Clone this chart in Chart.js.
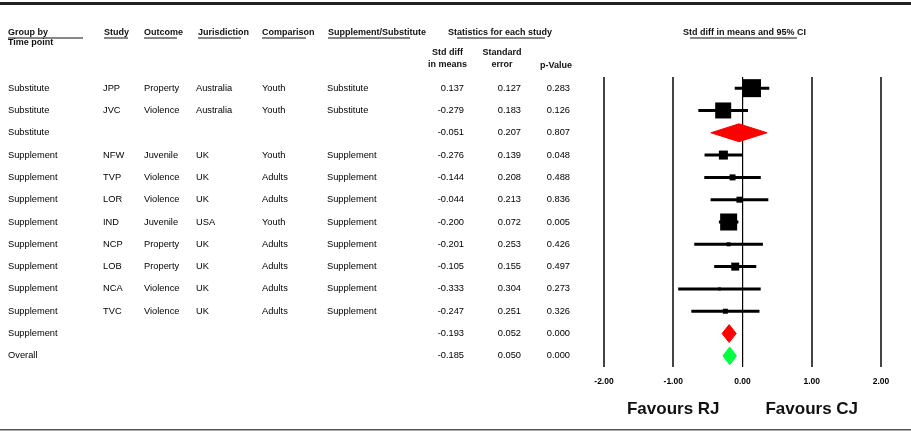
<!DOCTYPE html>
<html>
<head>
<meta charset="utf-8">
<script src="https://cdn.jsdelivr.net/npm/chart.js@4.4.1/dist/chart.umd.min.js"></script>
<style>
html, body { margin: 0; padding: 0; background: #fff; }
</style>
</head>
<body>
<canvas id="forest" width="911" height="431"></canvas>
<script>
// -------- data, rows from top to bottom -------- //
const groups = ['Substitute', 'Substitute', 'Substitute', 'Supplement', 'Supplement', 'Supplement', 'Supplement',
                'Supplement', 'Supplement', 'Supplement', 'Supplement', 'Supplement', 'Overall'];
const studies = ['JPP', 'JVC', '', 'NFW', 'TVP', 'LOR', 'IND', 'NCP', 'LOB', 'NCA', 'TVC', '', ''];
const outcomes = ['Property', 'Violence', '', 'Juvenile', 'Violence', 'Violence', 'Juvenile', 'Property', 'Property', 'Violence', 'Violence', '', ''];
const jurisdictions = ['Australia', 'Australia', '', 'UK', 'UK', 'UK', 'USA', 'UK', 'UK', 'UK', 'UK', '', ''];
const comparisons = ['Youth', 'Youth', '', 'Youth', 'Adults', 'Adults', 'Youth', 'Adults', 'Adults', 'Adults', 'Adults', '', ''];
const suppSub = ['Substitute', 'Substitute', '', 'Supplement', 'Supplement', 'Supplement', 'Supplement', 'Supplement',
                 'Supplement', 'Supplement', 'Supplement', '', ''];
const stdDiff = [0.137, -0.279, -0.051, -0.276, -0.144, -0.044, -0.200, -0.201, -0.105, -0.333, -0.247, -0.193, -0.185];
const stdErr = [0.127, 0.183, 0.207, 0.139, 0.208, 0.213, 0.072, 0.253, 0.155, 0.304, 0.251, 0.052, 0.050];
const pValue = [0.283, 0.126, 0.807, 0.048, 0.488, 0.836, 0.005, 0.426, 0.497, 0.273, 0.326, 0.000, 0.000];
const lowerCI = [-0.112, -0.638, -0.457, -0.548, -0.552, -0.461, -0.341, -0.697, -0.409, -0.929, -0.739, -0.295, -0.283];
const upperCI = [0.386, 0.080, 0.355, -0.004, 0.264, 0.373, -0.059, 0.295, 0.199, 0.263, 0.245, -0.091, -0.087];
const rowKind = ['study', 'study', 'subgroup', 'study', 'study', 'study', 'study', 'study', 'study', 'study', 'study', 'subgroup', 'overall'];
const boxSide = [18, 16, 0, 9, 6, 6, 17, 4, 8, 3, 5, 0, 0]; // weight boxes, px
const xTicks = [-2, -1, 0, 1, 2];

const BODY_FONT = '9.3px "Liberation Sans", Arial, sans-serif';
const HEAD_FONT = 'bold 9px "Liberation Sans", Arial, sans-serif';

// -------- datasets -------- //
const datasets = [];

// CI whiskers for single studies
rowKind.forEach((k, i) => {
    if (k !== 'study') return;
    datasets.push({
        data: [{ x: lowerCI[i], y: i }, { x: upperCI[i], y: i }],
        showLine: true,
        borderColor: '#000',
        borderWidth: 3,
        pointRadius: 0,
        order: 2
    });
});

// weight boxes
const boxRows = rowKind.map((k, i) => i).filter(i => rowKind[i] === 'study');
datasets.push({
    data: boxRows.map(i => ({ x: stdDiff[i], y: i })),
    pointStyle: 'rect',
    pointRadius: boxRows.map(i => boxSide[i] / Math.SQRT2),
    backgroundColor: '#000',
    borderWidth: 0,
    order: 0
});

// summary diamonds
rowKind.forEach((k, i) => {
    if (k === 'study') return;
    const col = k === 'overall' ? '#00ff3c' : '#ff0000';
    datasets.push({
        data: [
            { x: lowerCI[i], y: i },
            { x: stdDiff[i], y: i - 0.4 },
            { x: upperCI[i], y: i },
            { x: stdDiff[i], y: i + 0.4 },
            { x: lowerCI[i], y: i }
        ],
        showLine: true,
        fill: 'shape',
        backgroundColor: col,
        borderColor: col,
        borderWidth: 1,
        pointRadius: 0,
        tension: 0,
        order: 1
    });
});

// -------- table text, headers and rules -------- //
const tablePlugin = {
    id: 'forestTable',
    afterDraw(chart) {
        const ctx = chart.ctx;
        const y = chart.scales.y;
        const x = chart.scales.x;
        ctx.save();

        // rules
        ctx.fillStyle = '#222';
        ctx.fillRect(0, 2, 911, 3);
        ctx.fillStyle = '#555';
        ctx.fillRect(0, 429, 911, 1.5);

        // headers
        ctx.fillStyle = '#111';
        ctx.font = HEAD_FONT;
        ctx.textBaseline = 'middle';
        ctx.textAlign = 'left';
        const heads = [
            ['Group by', 8, 33, 8, 83],
            ['Time point', 8, 43, 0, 0],
            ['Study', 104, 33, 104, 128],
            ['Outcome', 144, 33, 144, 177],
            ['Jurisdiction', 198, 33, 198, 241],
            ['Comparison', 262, 33, 262, 306],
            ['Supplement/Substitute', 328, 33, 328, 410],
            ['Statistics for each study', 448, 33, 457, 545],
            ['Std diff in means and 95% CI', 683, 33, 690, 797]
        ];
        heads.forEach(h => {
            ctx.fillText(h[0], h[1], h[2]);
            if (h[4] > h[3]) ctx.fillRect(h[3], 37.5, h[4] - h[3], 1);
        });
        ctx.textAlign = 'center';
        ctx.fillText('Std diff', 447.5, 53);
        ctx.fillText('in means', 447.5, 65);
        ctx.fillText('Standard', 502, 53);
        ctx.fillText('error', 502, 65);
        ctx.fillText('p-Value', 556, 66);

        // body rows
        ctx.font = BODY_FONT;
        ctx.fillStyle = '#000';
        groups.forEach((g, i) => {
            const py = y.getPixelForValue(i);
            ctx.textAlign = 'left';
            ctx.fillText(g, 8, py);
            ctx.fillText(studies[i], 103, py);
            ctx.fillText(outcomes[i], 144, py);
            ctx.fillText(jurisdictions[i], 196, py);
            ctx.fillText(comparisons[i], 262, py);
            ctx.fillText(suppSub[i], 327, py);
            ctx.textAlign = 'right';
            ctx.fillText(stdDiff[i].toFixed(3), 464, py);
            ctx.fillText(stdErr[i].toFixed(3), 521, py);
            ctx.fillText(pValue[i].toFixed(3), 570, py);
        });

        // favours labels
        ctx.font = 'bold 17px "Liberation Sans", Arial, sans-serif';
        ctx.textAlign = 'center';
        ctx.fillStyle = '#111';
        ctx.fillText('Favours RJ', x.getPixelForValue(-1), 409);
        ctx.fillText('Favours CJ', x.getPixelForValue(1), 409);

        ctx.restore();
    }
};

new Chart(document.getElementById('forest'), {
    type: 'scatter',
    data: { datasets: datasets },
    options: {
        responsive: false,
        animation: false,
        devicePixelRatio: 1,
        layout: { padding: { left: 604, right: 30, top: 77, bottom: 14 } },
        plugins: { legend: { display: false }, tooltip: { enabled: false } },
        scales: {
            x: {
                type: 'linear',
                min: xTicks[0],
                max: xTicks[xTicks.length - 1],
                afterBuildTicks: s => { s.ticks = xTicks.map(v => ({ value: v })); },
                afterFit: s => { s.height = 50; },
                ticks: {
                    callback: v => Number(v).toFixed(2),
                    color: '#000',
                    padding: 10,
                    maxRotation: 0,
                    font: { family: '"Liberation Sans", Arial, sans-serif', size: 8.5, weight: 'bold' }
                },
                grid: {
                    drawTicks: false,
                    color: c => (c.tick && c.tick.value === 0) ? '#000' : '#444',
                    lineWidth: c => (c.tick && c.tick.value === 0) ? 1.2 : 2
                },
                border: { display: false }
            },
            y: {
                type: 'linear',
                min: -0.5,
                max: 12.5,
                reverse: true,
                display: false
            }
        }
    },
    plugins: [tablePlugin]
});
</script>
</body>
</html>
